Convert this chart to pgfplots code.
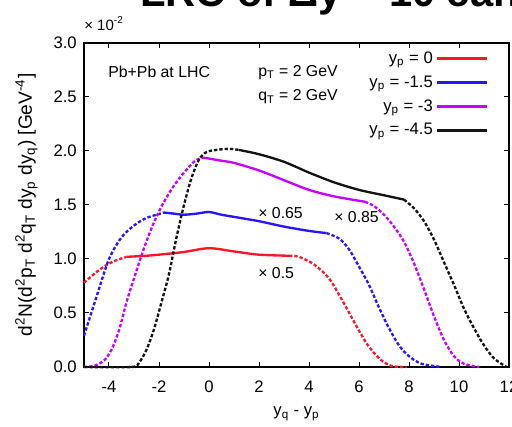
\documentclass[border=0pt]{standalone}
\usepackage{fontspec}
\setmainfont{Liberation Sans}
\usepackage{pgfplots}
\pgfplotsset{compat=1.18}
\definecolor{cred}{RGB}{255,20,40}
\definecolor{cblue}{RGB}{40,20,255}
\definecolor{cmag}{RGB}{200,0,255}
\definecolor{cblk}{RGB}{20,20,20}
\newcommand\sub[1]{\textsubscript{#1}}
\newcommand\sps[1]{\textsuperscript{#1}}
\begin{document}
\fontsize{9.5}{11}\selectfont
\begin{tikzpicture}
\begin{axis}[
  scale only axis, width=255pt, height=194.4pt,
  xmin=-5, xmax=12, ymin=0, ymax=3,
  xtick={-4,-2,0,2,4,6,8,10,12},
  ytick={0,0.5,1,1.5,2,2.5,3},
  yticklabel style={/pgf/number format/fixed,/pgf/number format/precision=1,/pgf/number format/fixed zerofill},
  /pgf/number format/assume math mode=true,
  tick align=inside, major tick length=3pt,
  axis line style={line width=1pt},
  every tick/.style={line width=0.6pt, black},
  ticklabel style={font=\fontsize{10}{12}\selectfont},
  xticklabel style={yshift=-5pt},
  yticklabel style={xshift=-1pt},
  xlabel={y\sub{q} - y\sub{p}},
  ylabel={d\sps{2}N(d\sps{2}p\sub{T} d\sps{2}q\sub{T} dy\sub{p} dy\sub{q}) [GeV\sps{-4}]},
  xlabel style={yshift=-2pt, font=\fontsize{10}{12}\selectfont},
  ylabel style={yshift=3pt, font=\fontsize{11.5}{13}\selectfont},
  clip=false,
  legend style={draw=none, fill=none, at={(rel axis cs:0.965,0.995)}, anchor=north east,
    font=\fontsize{10}{12}\selectfont, row sep=2pt},
  legend cell align=right,
  legend plot pos=right,
  legend image code/.code={\draw[#1, line width=1.6pt] (0pt,0pt) -- (30pt,0pt);},
  every axis plot/.append style={line width=1.4pt},
]
% y_p = 0 (x0.5), red
\addplot[cred, smooth] coordinates {(-3.3,1.02) (-2.5,1.03) (-2,1.04) (-1,1.065) (0,1.10) (1,1.07) (2,1.04) (3.2,1.03)};
\addlegendentry{y\sub{p} = 0}
% y_p = -1.5 (x0.65), blue
\addplot[cblue, smooth] coordinates {(-1.8,1.43) (-1.4,1.42) (-1,1.41) (-0.5,1.42) (0,1.435) (0.5,1.41) (1,1.39) (2,1.35) (3,1.30) (4,1.26) (4.7,1.24)};
\addlegendentry{y\sub{p} = -1.5}
% y_p = -3 (x0.85), magenta
\addplot[cmag, smooth] coordinates {(-0.3,1.94) (0,1.93) (0.5,1.91) (1,1.89) (2,1.82) (3,1.73) (4,1.64) (5,1.58) (6.24,1.53)};
\addlegendentry{y\sub{p} = -3}
% y_p = -4.5, black
\addplot[cblk, smooth] coordinates {(1.2,2.01) (2,1.97) (3,1.9) (4,1.8) (5,1.71) (6,1.64) (7,1.59) (7.8,1.55)};
\addlegendentry{y\sub{p} = -4.5}

% dashed extrapolations
\addplot[cred, smooth, dash pattern=on 2pt off 1.2pt, forget plot] coordinates {(-5,0.78) (-4.6,0.86) (-4.2,0.93) (-3.8,0.98) (-3.3,1.02)};
\addplot[cred, smooth, dash pattern=on 2pt off 1.2pt, forget plot] coordinates {(3.2,1.03) (3.6,1.02) (4.2,0.95) (4.8,0.82) (5.3,0.63) (5.8,0.42) (6.3,0.22) (6.8,0.08) (7.3,0.01) (7.9,0)};
\addplot[cblue, smooth, dash pattern=on 2pt off 1.2pt, forget plot] coordinates {(-5,0.29) (-4.5,0.65) (-4,1.0) (-3.5,1.2) (-3,1.31) (-2.5,1.38) (-1.8,1.43)};
\addplot[cblue, smooth, dash pattern=on 2pt off 1.2pt, forget plot] coordinates {(4.7,1.24) (5.2,1.19) (5.6,1.09) (6,0.93) (6.4,0.76) (6.8,0.55) (7.2,0.36) (7.6,0.2) (8,0.1) (8.5,0.03) (9.3,0)};
\addplot[cmag, smooth, dash pattern=on 2pt off 1.2pt, forget plot] coordinates {(-5,0) (-4.6,0.01) (-4.2,0.06) (-3.9,0.16) (-3.6,0.34) (-3.3,0.6) (-3,0.82) (-2.6,1.1) (-2.2,1.34) (-1.8,1.53) (-1.4,1.68) (-1,1.8) (-0.6,1.9) (-0.3,1.94)};
\addplot[cmag, smooth, dash pattern=on 2pt off 1.2pt, forget plot] coordinates {(6.24,1.53) (6.6,1.49) (7,1.41) (7.4,1.3) (7.8,1.16) (8.2,0.96) (8.6,0.72) (9,0.47) (9.4,0.25) (9.8,0.1) (10.2,0.03) (10.8,0)};
\addplot[cblk, smooth, dash pattern=on 2pt off 1.2pt, forget plot] coordinates {(-5,0) (-3.1,0) (-2.8,0.04) (-2.5,0.16) (-2.2,0.35) (-1.9,0.6) (-1.6,0.86) (-1.3,1.2) (-1,1.5) (-0.7,1.75) (-0.4,1.92) (-0.1,1.99) (0.3,2.01) (0.8,2.02) (1.2,2.01)};
\addplot[cblk, smooth, dash pattern=on 2pt off 1.2pt, forget plot] coordinates {(7.8,1.55) (8.2,1.47) (8.6,1.35) (9,1.18) (9.4,0.97) (9.8,0.76) (10.2,0.54) (10.6,0.36) (11,0.2) (11.4,0.08) (11.9,0)};

% annotations
\node[anchor=west, inner sep=0pt] at (axis cs:-4.04,2.73) {Pb+Pb at LHC};
\node[anchor=west, inner sep=0pt] at (axis cs:1.96,2.73) {p\sub{T} = 2 GeV};
\node[anchor=west, inner sep=0pt] at (axis cs:1.96,2.50) {q\sub{T} = 2 GeV};
\node[anchor=west, inner sep=0pt] at (axis cs:1.96,1.43) {× 0.65};
\node[anchor=west, inner sep=0pt] at (axis cs:5.0,1.39) {× 0.85};
\node[anchor=west, inner sep=0pt] at (axis cs:1.96,0.87) {× 0.5};
\node[anchor=west, inner sep=0pt, font=\fontsize{9}{10}\selectfont] at (axis cs:-5,3.18) {× 10\sps{-2}};
\end{axis}
\node[anchor=base west, inner sep=0pt, font=\fontsize{25}{28}\selectfont\bfseries]
  at ([xshift=33.6pt,yshift=22pt]current axis.north west) {LRC of Δy \~{} 10 can};
\pgfresetboundingbox
\useasboundingbox ([xshift=-50.4pt,yshift=-36pt]current axis.south west) rectangle ([xshift=1.8pt,yshift=25.8pt]current axis.north east);
\end{tikzpicture}
\end{document}
